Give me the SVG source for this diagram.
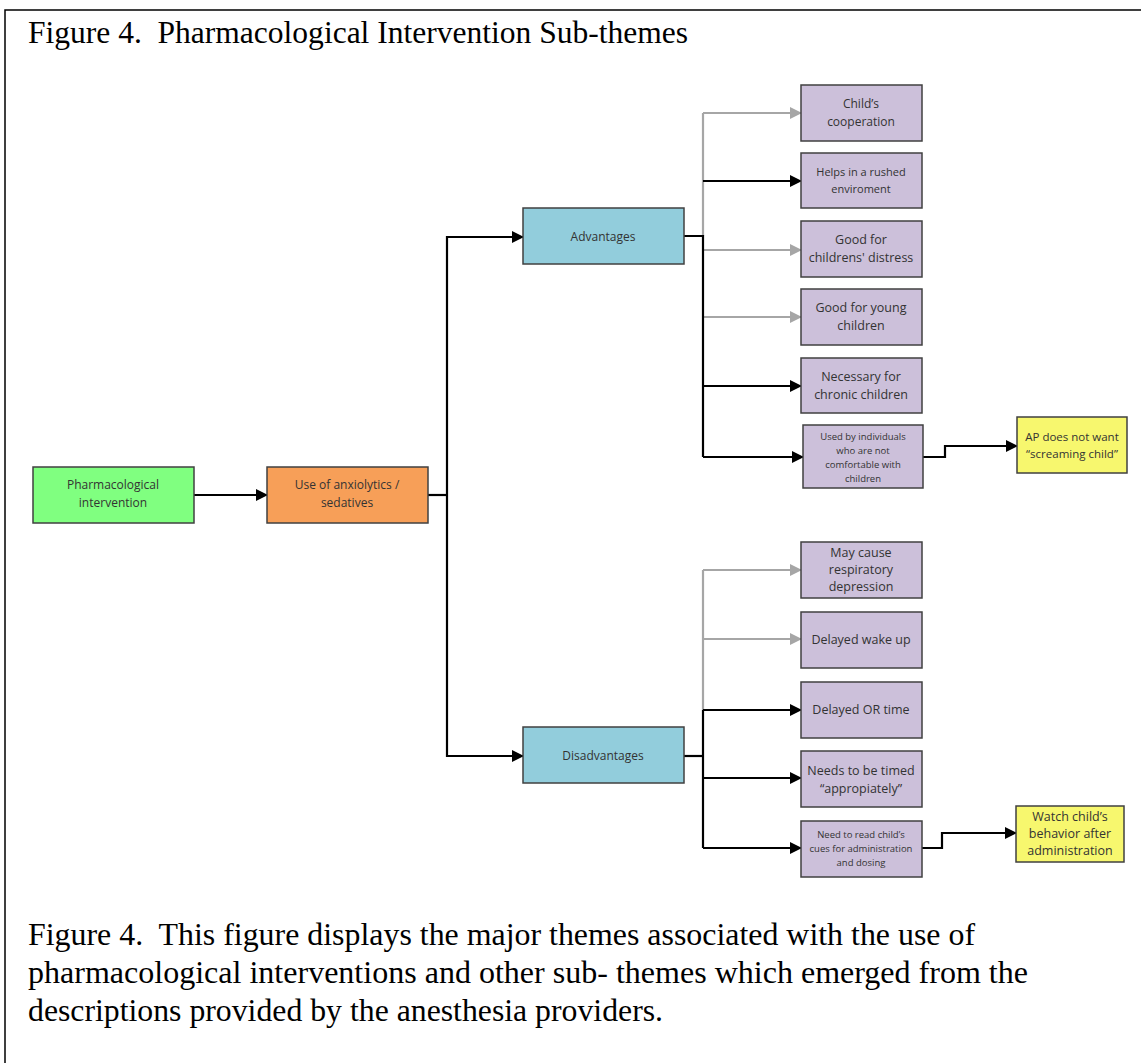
<svg xmlns="http://www.w3.org/2000/svg" width="1141" height="1063" viewBox="0 0 1141 1063">
<defs>
<marker id="ab" markerUnits="userSpaceOnUse" markerWidth="12" markerHeight="12" refX="11" refY="6" orient="auto"><path d="M0,0 L12,6 L0,12 z" fill="#000"/></marker>
<marker id="ag" markerUnits="userSpaceOnUse" markerWidth="12" markerHeight="12" refX="11" refY="6" orient="auto"><path d="M0,0 L12,6 L0,12 z" fill="#a6a6a6"/></marker>
</defs>
<style>
.cap{font-family:"Liberation Serif","Times New Roman",serif;font-size:32px;fill:#000}
.n{stroke:#404040;stroke-width:1.5}
.t{font-family:"Open Sans","Liberation Sans",sans-serif;fill:#333;text-anchor:middle}
.b{fill:none;stroke:#000;stroke-width:2.2}
.g{fill:none;stroke:#a6a6a6;stroke-width:2.2}
.ba{marker-end:url(#ab)}
.ga{marker-end:url(#ag)}
</style>
<rect width="1141" height="1063" fill="#fff"/>
<path d="M5,1070 L5,10 L1150,10" fill="none" stroke="#000" stroke-width="1.5"/>
<text class="cap" x="28" y="43" xml:space="preserve" textLength="660" lengthAdjust="spacingAndGlyphs">Figure 4.  Pharmacological Intervention Sub-themes</text>
<text class="cap" x="28" y="945" xml:space="preserve" textLength="947" lengthAdjust="spacingAndGlyphs">Figure 4.  This figure displays the major themes associated with the use of</text>
<text class="cap" x="28" y="983" textLength="1000" lengthAdjust="spacingAndGlyphs">pharmacological interventions and other sub- themes which emerged from the</text>
<text class="cap" x="28" y="1021" textLength="635" lengthAdjust="spacingAndGlyphs">descriptions provided by the anesthesia providers.</text>

<g id="connectors">
<path class="b ba" d="M194,495 L267,495"/>
<path class="b" d="M428,495 L447,495"/>
<path class="b ba" d="M447,495 L447,237 L523,237"/>
<path class="b ba" d="M447,495 L447,756 L523,756"/>
<path class="g" d="M703,236 L703,113"/>
<path class="g ga" d="M703,113 L801,113"/>
<path class="g ga" d="M703,250 L801,250"/>
<path class="g ga" d="M703,317 L801,317"/>
<path class="b" d="M684,236 L703,236 L703,457"/>
<path class="b ba" d="M703,181 L801,181"/>
<path class="b ba" d="M703,386 L801,386"/>
<path class="b ba" d="M703,457 L803,457"/>
<path class="b ba" d="M923,457 L945,457 L945,446 L1017,446"/>
<path class="g" d="M703,570 L703,710"/>
<path class="g ga" d="M703,570 L801,570"/>
<path class="g ga" d="M703,639 L801,639"/>
<path class="b" d="M684,756 L703,756"/>
<path class="b" d="M703,710 L703,848"/>
<path class="b ba" d="M703,710 L801,710"/>
<path class="b ba" d="M703,778 L801,778"/>
<path class="b ba" d="M703,848 L801,848"/>
<path class="b ba" d="M922,848 L942,848 L942,833 L1016,833"/>
</g>

<g id="n-pharm"><rect class="n" x="33" y="467" width="161" height="56" fill="#80ff80"/>
<text class="t" font-size="12"><tspan x="113" y="489">Pharmacological</tspan><tspan x="113" y="507">intervention</tspan></text></g>
<g id="n-use"><rect class="n" x="267" y="467" width="161" height="56" fill="#f79f58"/>
<text class="t" font-size="12"><tspan x="347" y="489">Use of anxiolytics /</tspan><tspan x="347" y="507">sedatives</tspan></text></g>
<g id="n-adv"><rect class="n" x="523" y="208" width="161" height="56" fill="#92cddc"/>
<text class="t" font-size="12" x="603" y="241">Advantages</text></g>
<g id="n-dis"><rect class="n" x="523" y="727" width="161" height="56" fill="#92cddc"/>
<text class="t" font-size="12" x="603" y="760">Disadvantages</text></g>

<g id="n-a1"><rect class="n" x="801" y="85" width="121" height="56" fill="#ccc0da"/>
<text class="t" font-size="12"><tspan x="861" y="108">Child’s</tspan><tspan x="861" y="126">cooperation</tspan></text></g>
<g id="n-a2"><rect class="n" x="801" y="153" width="121" height="55" fill="#ccc0da"/>
<text class="t" font-size="11"><tspan x="861" y="176">Helps in a rushed</tspan><tspan x="861" y="193">enviroment</tspan></text></g>
<g id="n-a3"><rect class="n" x="801" y="221" width="121" height="56" fill="#ccc0da"/>
<text class="t" font-size="12.5"><tspan x="861" y="244">Good for</tspan><tspan x="861" y="262">childrens' distress</tspan></text></g>
<g id="n-a4"><rect class="n" x="801" y="289" width="121" height="56" fill="#ccc0da"/>
<text class="t" font-size="12.5"><tspan x="861" y="312">Good for young</tspan><tspan x="861" y="330">children</tspan></text></g>
<g id="n-a5"><rect class="n" x="801" y="358" width="121" height="55" fill="#ccc0da"/>
<text class="t" font-size="12.5"><tspan x="861" y="381">Necessary for</tspan><tspan x="861" y="399">chronic children</tspan></text></g>
<g id="n-a6"><rect class="n" x="803" y="425" width="120" height="63" fill="#ccc0da"/>
<text class="t" font-size="9.5"><tspan x="863" y="440">Used by individuals</tspan><tspan x="863" y="454">who are not</tspan><tspan x="863" y="468">comfortable with</tspan><tspan x="863" y="482">children</tspan></text></g>
<g id="n-y1"><rect class="n" x="1017" y="417" width="110" height="56" fill="#f7f76e"/>
<text class="t" font-size="11.5"><tspan x="1072" y="441">AP does not want</tspan><tspan x="1072" y="458">“screaming child”</tspan></text></g>

<g id="n-d1"><rect class="n" x="801" y="542" width="121" height="56" fill="#ccc0da"/>
<text class="t" font-size="12.5"><tspan x="861" y="557">May cause</tspan><tspan x="861" y="574">respiratory</tspan><tspan x="861" y="591">depression</tspan></text></g>
<g id="n-d2"><rect class="n" x="801" y="612" width="121" height="56" fill="#ccc0da"/>
<text class="t" font-size="12.5" x="861" y="644">Delayed wake up</text></g>
<g id="n-d3"><rect class="n" x="801" y="682" width="121" height="56" fill="#ccc0da"/>
<text class="t" font-size="12.5" x="861" y="714">Delayed OR time</text></g>
<g id="n-d4"><rect class="n" x="801" y="751" width="121" height="56" fill="#ccc0da"/>
<text class="t" font-size="12.5"><tspan x="861" y="775">Needs to be timed</tspan><tspan x="861" y="793">“appropiately”</tspan></text></g>
<g id="n-d5"><rect class="n" x="801" y="821" width="121" height="56" fill="#ccc0da"/>
<text class="t" font-size="9.5"><tspan x="861" y="838">Need to read child’s</tspan><tspan x="861" y="852">cues for administration</tspan><tspan x="861" y="866">and dosing</tspan></text></g>
<g id="n-y2"><rect class="n" x="1016" y="806" width="108" height="56" fill="#f7f76e"/>
<text class="t" font-size="12.5"><tspan x="1070" y="821">Watch child’s</tspan><tspan x="1070" y="838">behavior after</tspan><tspan x="1070" y="855">administration</tspan></text></g>
</svg>
